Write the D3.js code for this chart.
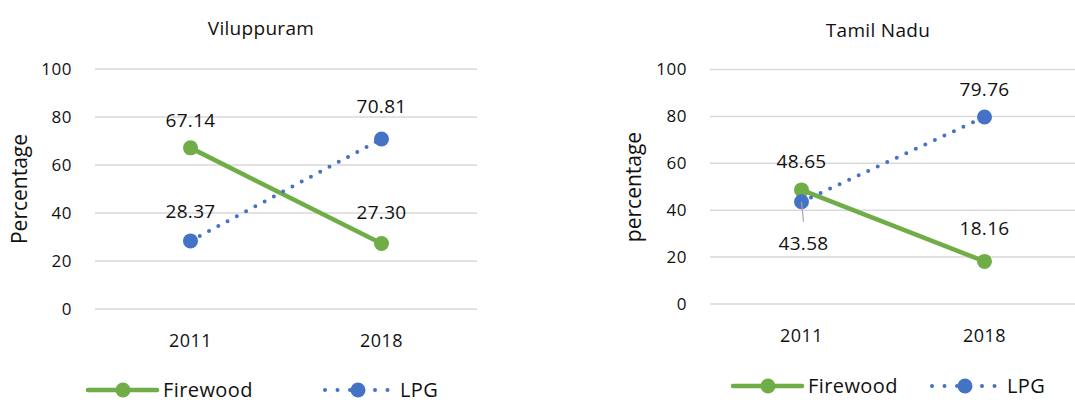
<!DOCTYPE html>
<html>
<head>
<meta charset="utf-8">
<script src="https://cdn.jsdelivr.net/npm/d3@7"></script>
<style>
  html, body { margin: 0; padding: 0; background: #fff; }
  svg { display: block; font-family: "Open Sans", Lato, sans-serif; }
</style>
</head>
<body>
<svg id="chart" width="1075" height="403"></svg>
<script>
// Household cooking fuel share, 2011 vs 2018
const years = ["2011", "2018"];
const regions = ["Viluppuram", "Tamil Nadu"];
const yAxisTitles = ["Percentage", "percentage"];
const firewoodViluppuram = [67.14, 27.30];
const lpgViluppuram = [28.37, 70.81];
const firewoodTamilNadu = [48.65, 18.16];
const lpgTamilNadu = [43.58, 79.76];
const yTicks = [0, 20, 40, 60, 80, 100];
const seriesNames = ["Firewood", "LPG"];

const GREEN = "#70AD47", BLUE = "#4472C4", GRID = "#d9d9d9", TEXT = "#111";

const svg = d3.select("#chart");

// Panel layout (plot area bounds, label offsets)
const panels = [
  {
    title: regions[0], yTitle: yAxisTitles[0],
    firewood: firewoodViluppuram, lpg: lpgViluppuram,
    x0: 95, x1: 477, yTop: 69, yBottom: 309,
    titleX: 261, titleY: 35, tickX: 72, yTitleX: 27, yTitleY: 189, xLabelY: 347,
    legendY: 390, legendFX: 88, legendLX: 325,
    labels: {
      firewood: [{dx: 0, dy: -21}, {dx: 0, dy: -24}],
      lpg: [{dx: 0, dy: -23}, {dx: 0, dy: -26}]
    }
  },
  {
    title: regions[1], yTitle: yAxisTitles[1],
    firewood: firewoodTamilNadu, lpg: lpgTamilNadu,
    x0: 710, x1: 1076, yTop: 69.5, yBottom: 304,
    titleX: 878, titleY: 37, tickX: 687, yTitleX: 641, yTitleY: 187, xLabelY: 342,
    legendY: 386, legendFX: 733, legendLX: 932,
    labels: {
      firewood: [{dx: 0, dy: -22}, {dx: 0, dy: -26}],
      lpg: [{dx: 2, dy: 48, leader: true}, {dx: 0, dy: -21}]
    }
  }
];

panels.forEach(p => {
  const g = svg.append("g");

  const x = d3.scaleBand().domain(years).range([p.x0, p.x1]).padding(0);
  const cx = d => x(d) + x.bandwidth() / 2;
  const y = d3.scaleLinear().domain([0, 100]).range([p.yBottom, p.yTop]);

  // Title
  g.append("text")
    .attr("x", p.titleX).attr("y", p.titleY)
    .attr("text-anchor", "middle")
    .style("font-size", "19px").style("letter-spacing", "0.3px").attr("fill", TEXT)
    .text(p.title);

  // Gridlines
  g.selectAll("line.grid").data(yTicks).join("line")
    .attr("class", "grid")
    .attr("x1", p.x0).attr("x2", p.x1)
    .attr("y1", d => y(d)).attr("y2", d => y(d))
    .attr("stroke", GRID).attr("stroke-width", 1.5);

  // Y tick labels
  g.selectAll("text.ytick").data(yTicks).join("text")
    .attr("class", "ytick")
    .attr("x", p.tickX).attr("y", d => y(d))
    .attr("dy", "0.35em").attr("text-anchor", "end")
    .style("font-size", "17px").style("letter-spacing", "0.5px").attr("fill", TEXT)
    .text(d => d);

  // X category labels
  g.selectAll("text.xtick").data(years).join("text")
    .attr("class", "xtick")
    .attr("x", d => cx(d)).attr("y", p.xLabelY)
    .attr("text-anchor", "middle")
    .style("font-size", "18px").style("letter-spacing", "0.5px").attr("fill", TEXT)
    .text(d => d);

  // Y axis title
  g.append("text")
    .attr("transform", `translate(${p.yTitleX},${p.yTitleY}) rotate(-90)`)
    .attr("text-anchor", "middle")
    .style("font-size", "21px").attr("fill", TEXT)
    .text(p.yTitle);

  const line = d3.line().x((d, i) => cx(years[i])).y(d => y(d));

  // Firewood series: solid line
  g.append("path").datum(p.firewood)
    .attr("d", line).attr("fill", "none")
    .attr("stroke", GREEN).attr("stroke-width", 4.5)
    .attr("stroke-linecap", "round");

  // LPG series: round dotted line
  g.append("path").datum(p.lpg)
    .attr("d", line).attr("fill", "none")
    .attr("stroke", BLUE).attr("stroke-width", 4)
    .attr("stroke-linecap", "round")
    .attr("stroke-dasharray", "0 10.5");

  // Markers
  g.selectAll("circle.fw").data(p.firewood).join("circle")
    .attr("class", "fw")
    .attr("cx", (d, i) => cx(years[i])).attr("cy", d => y(d))
    .attr("r", 7.5).attr("fill", GREEN);
  g.selectAll("circle.lpg").data(p.lpg).join("circle")
    .attr("class", "lpg")
    .attr("cx", (d, i) => cx(years[i])).attr("cy", d => y(d))
    .attr("r", 7.5).attr("fill", BLUE);

  // Data labels
  const drawLabels = (vals, offs) => {
    vals.forEach((v, i) => {
      const px = cx(years[i]), py = y(v), o = offs[i];
      if (o.leader) {
        g.append("line")
          .attr("x1", px).attr("y1", py)
          .attr("x2", px + 2).attr("y2", py + 20)
          .attr("stroke", "#a6a6a6").attr("stroke-width", 1.2);
      }
      g.append("text")
        .attr("x", px + o.dx).attr("y", py + o.dy)
        .attr("text-anchor", "middle")
        .style("font-size", "19px").style("letter-spacing", "0.3px").attr("fill", TEXT)
        .text(d3.format(".2f")(v));
    });
  };
  drawLabels(p.firewood, p.labels.firewood);
  drawLabels(p.lpg, p.labels.lpg);

  // Legend
  const lg = g.append("g");
  lg.append("line")
    .attr("x1", p.legendFX).attr("x2", p.legendFX + 69)
    .attr("y1", p.legendY).attr("y2", p.legendY)
    .attr("stroke", GREEN).attr("stroke-width", 4.5).attr("stroke-linecap", "round");
  lg.append("circle")
    .attr("cx", p.legendFX + 35).attr("cy", p.legendY).attr("r", 7.5).attr("fill", GREEN);
  lg.append("text")
    .attr("x", p.legendFX + 75).attr("y", p.legendY).attr("dy", "0.36em")
    .style("font-size", "20px").style("letter-spacing", "0.4px").attr("fill", TEXT)
    .text(seriesNames[0]);

  lg.append("line")
    .attr("x1", p.legendLX).attr("x2", p.legendLX + 63)
    .attr("y1", p.legendY).attr("y2", p.legendY)
    .attr("stroke", BLUE).attr("stroke-width", 4).attr("stroke-linecap", "round")
    .attr("stroke-dasharray", "0 12.5");
  lg.append("circle")
    .attr("cx", p.legendLX + 33).attr("cy", p.legendY).attr("r", 7.5).attr("fill", BLUE);
  lg.append("text")
    .attr("x", p.legendLX + 75).attr("y", p.legendY).attr("dy", "0.36em")
    .style("font-size", "20px").style("letter-spacing", "0.4px").attr("fill", TEXT)
    .text(seriesNames[1]);
});
</script>
</body>
</html>
